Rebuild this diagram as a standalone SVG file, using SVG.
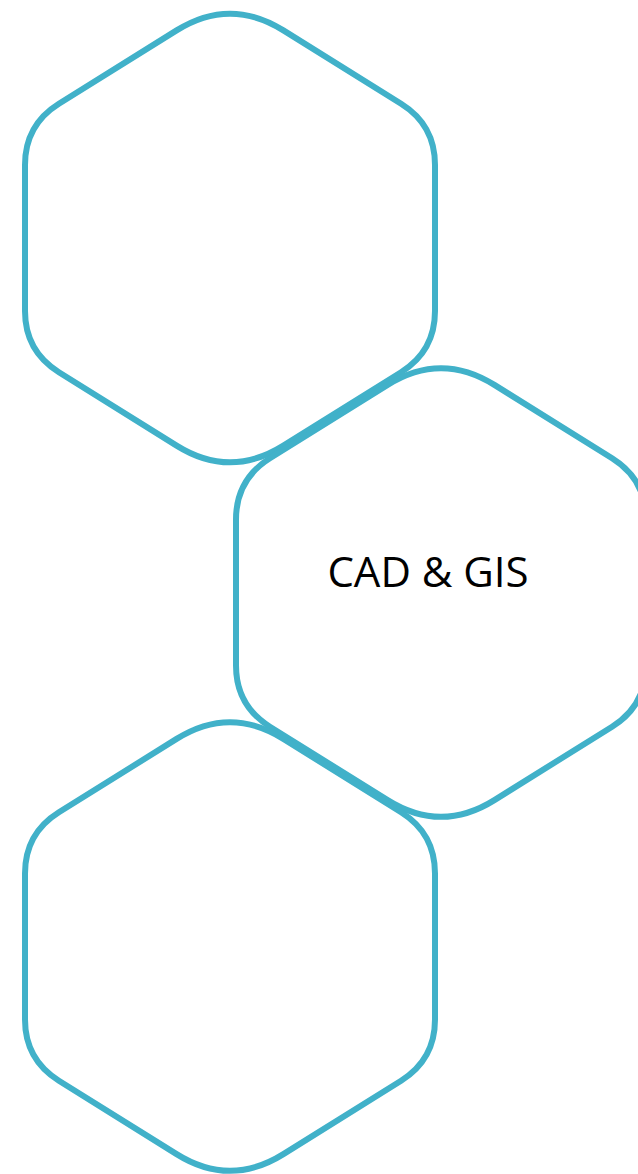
<svg xmlns="http://www.w3.org/2000/svg" xmlns:xlink="http://www.w3.org/1999/xlink" width="638" height="1174" viewBox="0 0 638 1174">
<style>
.hex{fill:none;stroke:#41B1C9;stroke-width:6;stroke-linejoin:round}
.lbl{font-family:"Open Sans","Liberation Sans",sans-serif;font-size:42px;fill:#000;text-anchor:middle}
</style>
<defs>
<path id="hex" d="M53.4,-207.6 L171.1,-134.2 Q205,-113 205,-73 L205,73 Q205,113 171.1,134.2 L53.4,207.6 Q0,241 -53.4,207.6 L-171.1,134.2 Q-205,113 -205,73 L-205,-73 Q-205,-113 -171.1,-134.2 L-53.4,-207.6 Q0,-241 53.4,-207.6 Z"/>
</defs>
<rect width="638" height="1174" fill="#fff"/>
<g id="hex-top"><use xlink:href="#hex" class="hex" x="230" y="238"/></g>
<g id="hex-middle"><use xlink:href="#hex" class="hex" x="441" y="592.5"/><text class="lbl" x="428" y="587">CAD &amp; GIS</text></g>
<g id="hex-bottom"><use xlink:href="#hex" class="hex" x="230" y="946.5"/></g>
<g id="connectors"/>
</svg>
